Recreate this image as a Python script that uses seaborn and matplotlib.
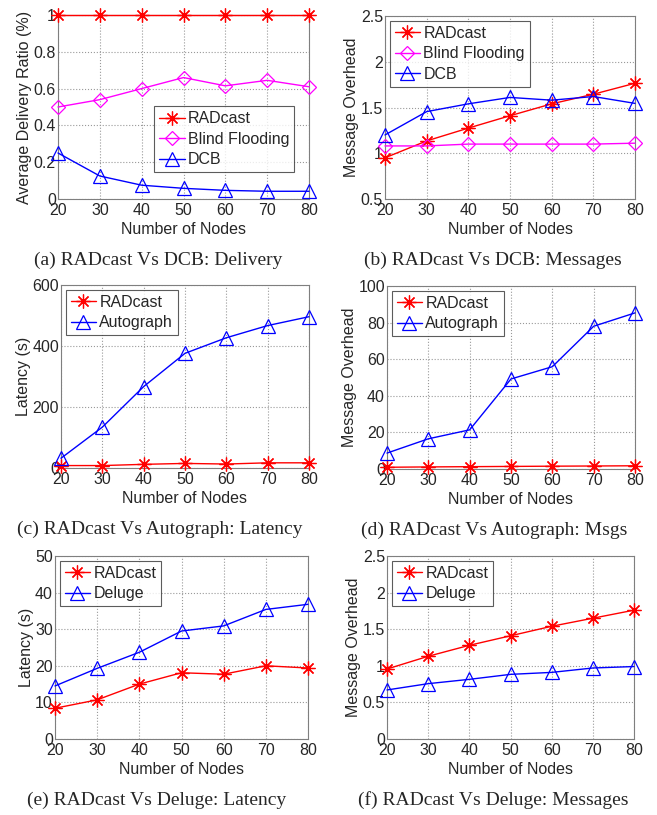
import matplotlib
matplotlib.use("Agg")
import matplotlib.pyplot as plt
import seaborn as sns

# --- data ---
nodes = [20, 30, 40, 50, 60, 70, 80]

# (a) delivery ratio
a_radcast = [1, 1, 1, 1, 1, 1, 1]
a_flooding = [0.50, 0.54, 0.60, 0.66, 0.615, 0.645, 0.61]
a_dcb = [0.25, 0.125, 0.075, 0.058, 0.047, 0.042, 0.042]

# (b) message overhead vs DCB
b_radcast = [0.95, 1.135, 1.275, 1.41, 1.54, 1.645, 1.765]
b_flooding = [1.08, 1.08, 1.10, 1.10, 1.10, 1.10, 1.11]
b_dcb = [1.20, 1.455, 1.54, 1.61, 1.58, 1.62, 1.545]

# (c) latency vs Autograph
c_radcast = [8, 8, 12, 15, 13, 17, 17]
c_autograph = [32, 134, 267, 376, 427, 467, 496]

# (d) messages vs Autograph
d_radcast = [0.95, 1.135, 1.275, 1.41, 1.54, 1.645, 1.765]
d_autograph = [8.7, 16.5, 21.4, 49.2, 55.9, 78, 85.3]

# (e) latency vs Deluge
e_radcast = [8.4, 10.7, 15.0, 18.1, 17.7, 20.0, 19.4]
e_deluge = [14.5, 19.3, 23.7, 29.5, 30.9, 35.4, 36.8]

# (f) messages vs Deluge
f_radcast = [0.956, 1.13, 1.28, 1.41, 1.54, 1.65, 1.76]
f_deluge = [0.67, 0.756, 0.815, 0.883, 0.91, 0.97, 0.99]

captions = ["(a) RADcast Vs DCB: Delivery", "(b) RADcast Vs DCB: Messages",
            "(c) RADcast Vs Autograph: Latency", "(d) RADcast Vs Autograph: Msgs",
            "(e) RADcast Vs Deluge: Latency", "(f) RADcast Vs Deluge: Messages"]

sns.set_style("white")
plt.rcParams["font.family"] = ["Liberation Sans", "DejaVu Sans"]

W, H = 657, 815
fig = plt.figure(figsize=(W / 100, H / 100), dpi=100)

# pixel boxes (left, top, right, bottom) of each axes
boxes = [(58, 15, 309, 199), (385, 16, 635, 199),
         (61, 285, 309, 468), (387, 286, 635, 469),
         (55, 556, 308, 739), (387, 556, 634, 739)]

# matlab-like markers: asterisk, open diamond, open triangle
styles = {
    "RADcast": dict(color="red", marker=(8, 2, 0), markersize=10, markeredgewidth=0.9,
                    markeredgecolor="red", markerfacecolor="red"),
    "Blind Flooding": dict(color="magenta", marker="D", markersize=7.5,
                           markerfacecolor="none", markeredgecolor="magenta",
                           markeredgewidth=0.9),
    "DCB": dict(color="blue", marker="^", markersize=10, markeredgecolor="blue",
                markerfacecolor="none", markeredgewidth=0.9),
}
styles["Autograph"] = styles["DCB"]
styles["Deluge"] = styles["DCB"]

panels = [
    ({"RADcast": a_radcast, "Blind Flooding": a_flooding, "DCB": a_dcb},
     "Average Delivery Ratio (%)", (0, 1), [0, 0.2, 0.4, 0.6, 0.8, 1], ["0", "0.2", "0.4", "0.6", "0.8", "1"],
     dict(loc="lower right", bbox_to_anchor=(0.96, 0.12))),
    ({"RADcast": b_radcast, "Blind Flooding": b_flooding, "DCB": b_dcb},
     "Message Overhead", (0.5, 2.5), [0.5, 1, 1.5, 2, 2.5], ["0.5", "1", "1.5", "2", "2.5"],
     dict(loc="upper left")),
    ({"RADcast": c_radcast, "Autograph": c_autograph},
     "Latency (s)", (0, 600), [0, 200, 400, 600], ["0", "200", "400", "600"],
     dict(loc="upper left")),
    ({"RADcast": d_radcast, "Autograph": d_autograph},
     "Message Overhead", (0, 100), [0, 20, 40, 60, 80, 100], ["0", "20", "40", "60", "80", "100"],
     dict(loc="upper left")),
    ({"RADcast": e_radcast, "Deluge": e_deluge},
     "Latency (s)", (0, 50), [0, 10, 20, 30, 40, 50], ["0", "10", "20", "30", "40", "50"],
     dict(loc="upper left")),
    ({"RADcast": f_radcast, "Deluge": f_deluge},
     "Message Overhead", (0, 2.5), [0, 0.5, 1, 1.5, 2, 2.5], ["0", "0.5", "1", "1.5", "2", "2.5"],
     dict(loc="upper left")),
]

for (l, t, r, b), (series, ylabel, ylim, yticks, yticklabels, legkw), cap in zip(boxes, panels, captions):
    ax = fig.add_axes([l / W, 1 - b / H, (r - l) / W, (b - t) / H])
    for name, vals in series.items():
        sns.lineplot(x=nodes, y=vals, ax=ax, label=name, linewidth=1.0,
                     clip_on=False, zorder=3, **styles[name])
    ax.set_xlim(20, 80)
    ax.set_ylim(*ylim)
    ax.set_xticks(nodes)
    ax.set_yticks(yticks)
    ax.set_yticklabels(yticklabels)
    ax.grid(True, linestyle=":", color="#999999", linewidth=0.8)
    ax.tick_params(direction="in", length=3, labelsize=11.5, pad=1.5, color="#555555")
    ax.tick_params(axis="x", pad=3)
    for s in ax.spines.values():
        s.set_color("#7f7f7f")
        s.set_linewidth(0.8)
    ax.set_xlabel("Number of Nodes", fontsize=11.5, labelpad=3)
    ax.set_ylabel(ylabel, fontsize=11.5, labelpad=1)
    leg = ax.legend(fontsize=11.5, frameon=True, fancybox=False, edgecolor="#333333",
                    handlelength=1.6, handletextpad=0.2, borderpad=0.3, labelspacing=0.35,
                    borderaxespad=0.3, numpoints=1, **legkw)
    leg.get_frame().set_linewidth(0.8)
    leg.set_zorder(5)
    # sub-figure caption
    cx = (l + r) / 2 - 25 if l < 200 else (l + r) / 2 - 17
    fig.text(cx / W, 1 - (b + 61) / H, cap, ha="center", va="center",
             fontsize=14, family=["Liberation Serif", "DejaVu Serif"])

fig.savefig("out.png", dpi=100)
